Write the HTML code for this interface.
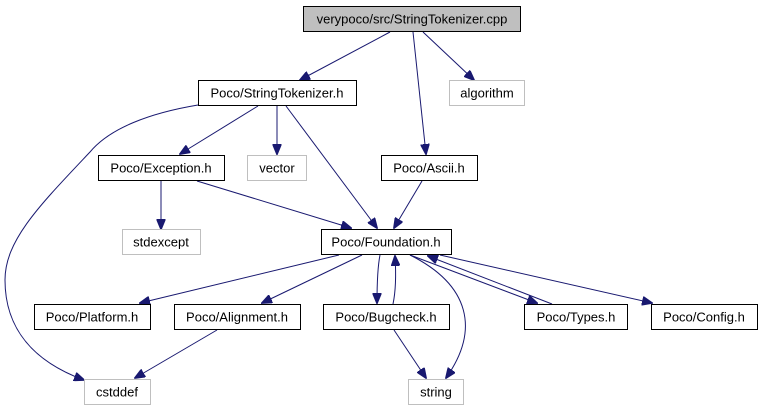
<!DOCTYPE html>
<html><head><meta charset="utf-8"><style>
html,body{margin:0;padding:0;background:#fff;}
svg{display:block;}
text{font-family:"Liberation Sans",sans-serif;font-size:13px;fill:#000;}
</style></head><body>
<svg width="761" height="411" viewBox="0 0 761 411" xmlns="http://www.w3.org/2000/svg">
<defs>
<marker id="a" markerWidth="11" markerHeight="9" refX="10" refY="4.5" orient="auto" markerUnits="userSpaceOnUse">
<path d="M0,0 L11,4.5 L0,9 z" fill="#191970" stroke="#191970"/>
</marker>
</defs>
<g fill="none" stroke="#191970" stroke-width="1" marker-end="url(#a)">
<path d="M390,32 L300,80"/>
<path d="M413,32 L426,154"/>
<path d="M423,32 L474,80"/>
<path d="M198,105 C150,113 110,128 90,152 C40,205 5,240 5,280 C5,330 35,362 84,380"/>
<path d="M258,106 L180,154"/>
<path d="M277,106 L277,154"/>
<path d="M286,106 L377,228"/>
<path d="M161,181 L161,229"/>
<path d="M197,181 L351,228"/>
<path d="M422,181 L394,228"/>
<path d="M339,255 L140,303"/>
<path d="M362,255 L262,303"/>
<path d="M380,255 C377,270 377,290 377,303"/>
<path d="M393,304 C396,290 396,272 395,256"/>
<path d="M410,255 C470,285 480,330 446,378"/>
<path d="M410,255 L537,303"/>
<path d="M552,304 L428,256"/>
<path d="M440,255 L652,303"/>
<path d="M217,330 L135,378"/>
<path d="M394,330 L426,378"/>
</g>
<g stroke-width="1">
<rect x="303.5" y="6.5" width="217" height="25" fill="#bfbfbf" stroke="#000"/>
<rect x="198.5" y="80.5" width="158" height="25" fill="#fff" stroke="#000"/>
<rect x="449.5" y="80.5" width="75" height="25" fill="#fff" stroke="#bfbfbf"/>
<rect x="98.5" y="155.5" width="126" height="25" fill="#fff" stroke="#000"/>
<rect x="247.5" y="155.5" width="59" height="25" fill="#fff" stroke="#bfbfbf"/>
<rect x="381.5" y="155.5" width="96" height="25" fill="#fff" stroke="#000"/>
<rect x="122.5" y="229.5" width="78" height="25" fill="#fff" stroke="#bfbfbf"/>
<rect x="321.5" y="229.5" width="130" height="25" fill="#fff" stroke="#000"/>
<rect x="34.5" y="304.5" width="116" height="25" fill="#fff" stroke="#000"/>
<rect x="174.5" y="304.5" width="126" height="25" fill="#fff" stroke="#000"/>
<rect x="323.5" y="304.5" width="126" height="25" fill="#fff" stroke="#000"/>
<rect x="524.5" y="304.5" width="103" height="25" fill="#fff" stroke="#000"/>
<rect x="651.5" y="304.5" width="106" height="25" fill="#fff" stroke="#000"/>
<rect x="84.5" y="379.5" width="66" height="25" fill="#fff" stroke="#bfbfbf"/>
<rect x="408.5" y="379.5" width="55" height="25" fill="#fff" stroke="#bfbfbf"/>
</g>
<g text-anchor="middle">
<text x="412" y="23.5">verypoco/src/StringTokenizer.cpp</text>
<text x="277" y="97.5">Poco/StringTokenizer.h</text>
<text x="487" y="97.5">algorithm</text>
<text x="161" y="172.5">Poco/Exception.h</text>
<text x="277" y="172.5">vector</text>
<text x="429" y="172.5">Poco/Ascii.h</text>
<text x="161" y="246.5">stdexcept</text>
<text x="386" y="246.5">Poco/Foundation.h</text>
<text x="92" y="321.5">Poco/Platform.h</text>
<text x="237" y="321.5">Poco/Alignment.h</text>
<text x="386" y="321.5">Poco/Bugcheck.h</text>
<text x="576" y="321.5">Poco/Types.h</text>
<text x="704" y="321.5">Poco/Config.h</text>
<text x="117" y="396.5">cstddef</text>
<text x="436" y="396.5">string</text>
</g>
</svg>
</body></html>
